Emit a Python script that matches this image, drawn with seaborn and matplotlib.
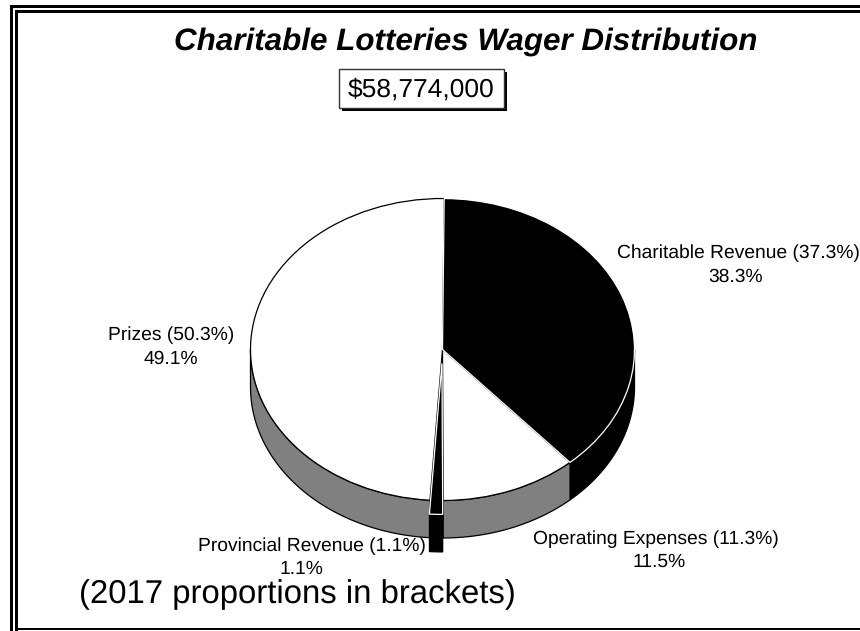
import numpy as np
import matplotlib
matplotlib.use("Agg")
import matplotlib.pyplot as plt
from matplotlib.patches import Rectangle
import seaborn as sns

# data, clockwise from 12 o'clock
categories = ["Charitable Revenue", "Operating Expenses", "Provincial Revenue", "Prizes"]
shares_2018 = [38.3, 11.5, 1.1, 49.1]
shares_2017 = [37.3, 11.3, 1.1, 50.3]
total_wager = "$58,774,000"

top_colors = ["black", "white", "black", "white"]
edge_colors = ["white", "black", "white", "black"]
wall_colors = ["black", "#808080", "black", "#808080"]
explode = [0, 0, 0.092, 0]

W, H = 860, 631
CX, CY, RX, RY = 442.5, 349.5, 192, 151
DEPTH = 37.5 / RY
TURN = 0.5

sns.set_theme(style="white")
plt.rcParams["font.family"] = ["Liberation Sans", "DejaVu Sans"]
plt.rcParams["text.hinting"] = "no_hinting"

fig = plt.figure(figsize=(W / 100, H / 100), dpi=100, facecolor="white")
ax = fig.add_axes([0, 0, 1, 1])

# side walls first, only the part of each slice that faces the viewer
edges = np.cumsum([0] + shares_2018) * 3.6 + TURN
for i in range(len(shares_2018)):
    a0, a1 = max(edges[i], 90), min(edges[i + 1], 270)
    if a1 <= a0:
        continue
    t = np.radians(np.linspace(a0, a1, 80))
    mid = np.radians((edges[i] + edges[i + 1]) / 2)
    ox, oy = explode[i] * np.sin(mid), explode[i] * np.cos(mid)
    x = np.sin(t) + ox
    y = np.cos(t) + oy
    ax.fill(np.r_[x, x[::-1]], np.r_[y, y[::-1] - DEPTH], facecolor=wall_colors[i],
            edgecolor="black", linewidth=0.9, zorder=1 + (explode[i] > 0))

wedges, _ = ax.pie(shares_2018, colors=top_colors, startangle=90 - TURN, counterclock=False,
                   explode=explode, frame=True,
                   wedgeprops={"linewidth": 0.9})
for i, w in enumerate(wedges):
    w.set_edgecolor(edge_colors[i])
    w.set_zorder(3 if top_colors[i] == "white" else 4)

ax.set_aspect("auto")
ax.set_xlim(-CX / RX, (W - CX) / RX)
ax.set_ylim((CY - H) / RY, CY / RY)
ax.axis("off")

# overlay in pixel coordinates for frame and text
over = fig.add_axes([0, 0, 1, 1], zorder=5)
over.set_xlim(0, W)
over.set_ylim(H, 0)
over.axis("off")

for x0, y0, ww, hh in [(10, 5, W, 3), (10, 5, 3, H), (15, 10, W, 3), (15, 10, 3, H), (15, 628, W, 2)]:
    over.add_patch(Rectangle((x0, y0), ww, hh, facecolor="black", edgecolor="none"))

over.text(465.5, 42, "Charitable Lotteries Wager Distribution", fontsize=22.6,
          fontweight="bold", fontstyle="italic", color="black", ha="center", va="center")

over.add_patch(Rectangle((342, 72), 165, 39, facecolor="black", edgecolor="none"))
over.add_patch(Rectangle((339, 69), 165, 39, facecolor="white", edgecolor="#333333", linewidth=1))
over.text(421, 90, total_wager, fontsize=19, color="black", ha="center", va="center")

label_pos = [((738.5, 253), (736, 277)), ((656, 539), (659, 562)),
             ((312, 546), (301, 569)), ((171, 335), (171, 359))]
for cat, new, old, (p1, p2) in zip(categories, shares_2018, shares_2017, label_pos):
    over.text(p1[0], p1[1], f"{cat} ({old}%)", fontsize=13.85, color="black", ha="center", va="center")
    over.text(p2[0], p2[1], f"{new}%", fontsize=13.85, color="black", ha="center", va="center")

over.text(297, 595, "(2017 proportions in brackets)", fontsize=23.7, color="black", ha="center", va="center")

fig.savefig("out.png", dpi=100)
